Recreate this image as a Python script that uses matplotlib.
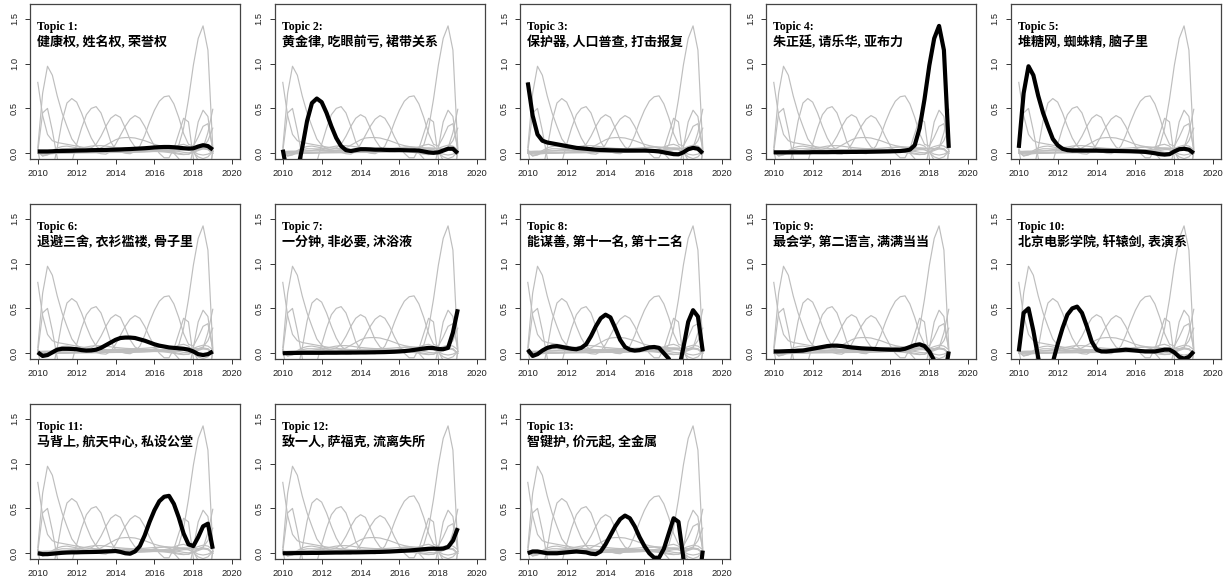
import matplotlib
matplotlib.use("Agg")
import matplotlib.pyplot as plt
import numpy as np

# sample years (quarter-year grid)
years = np.arange(2010.0, 2019.001, 0.25)

topic_names = [f"Topic {i}:" for i in range(1, 14)]
topic_terms = [
    "健康权, 姓名权, 荣誉权",
    "黄金律, 吃眼前亏, 裙带关系",
    "保护器, 人口普查, 打击报复",
    "朱正廷, 请乐华, 亚布力",
    "堆糖网, 蜘蛛精, 脑子里",
    "退避三舍, 衣衫褴褛, 骨子里",
    "一分钟, 非必要, 沐浴液",
    "能谋善, 第十一名, 第十二名",
    "最会学, 第二语言, 满满当当",
    "北京电影学院, 轩辕剑, 表演系",
    "马背上, 航天中心, 私设公堂",
    "致一人, 萨福克, 流离失所",
    "智键护, 价元起, 全金属",
]

t1 = [0.02, 0.02, 0.02, 0.022, 0.025, 0.026, 0.027, 0.028, 0.03, 0.031, 0.032, 0.034,
      0.035, 0.036, 0.037, 0.039, 0.04, 0.042, 0.045, 0.047, 0.05, 0.053, 0.056, 0.06,
      0.065, 0.068, 0.07, 0.07, 0.067, 0.062, 0.056, 0.052, 0.055, 0.075, 0.09, 0.08, 0.04]
t2 = [0.04, -0.25, -0.4, -0.2, 0.06, 0.36, 0.56, 0.61, 0.57, 0.45, 0.3, 0.17,
      0.08, 0.035, 0.025, 0.035, 0.045, 0.045, 0.043, 0.04, 0.04, 0.038, 0.036, 0.035,
      0.035, 0.034, 0.033, 0.032, 0.03, 0.02, 0.01, 0.005, 0.01, 0.03, 0.05, 0.05, 0.0]
t3 = [0.79, 0.42, 0.21, 0.14, 0.12, 0.11, 0.1, 0.09, 0.08, 0.07, 0.06, 0.055,
      0.05, 0.045, 0.04, 0.037, 0.035, 0.033, 0.032, 0.031, 0.03, 0.03, 0.03, 0.03,
      0.03, 0.028, 0.025, 0.02, 0.01, 0.0, -0.01, -0.012, 0.01, 0.045, 0.06, 0.05, 0.0]
t4 = [0.01, 0.01, 0.01, 0.01, 0.01, 0.01, 0.01, 0.01, 0.012, 0.012, 0.012, 0.012,
      0.013, 0.013, 0.014, 0.014, 0.015, 0.015, 0.016, 0.016, 0.017, 0.018, 0.019, 0.02,
      0.021, 0.023, 0.025, 0.03, 0.04, 0.09, 0.28, 0.6, 0.98, 1.28, 1.42, 1.15, 0.06]
t5 = [0.06, 0.67, 0.97, 0.87, 0.64, 0.45, 0.3, 0.16, 0.09, 0.05, 0.035, 0.03,
      0.03, 0.03, 0.03, 0.03, 0.03, 0.028, 0.027, 0.026, 0.025, 0.024, 0.023, 0.022,
      0.02, 0.018, 0.015, 0.008, 0.0, -0.01, -0.015, -0.01, 0.02, 0.045, 0.05, 0.04, 0.0]
t6 = [0.01, -0.03, -0.02, 0.01, 0.04, 0.05, 0.05, 0.048, 0.045, 0.035, 0.03, 0.032,
      0.04, 0.06, 0.09, 0.12, 0.15, 0.17, 0.175, 0.175, 0.17, 0.155, 0.14, 0.12,
      0.1, 0.085, 0.075, 0.065, 0.06, 0.055, 0.05, 0.04, 0.02, -0.01, -0.02, -0.01, 0.02]
t7 = [0.0, 0.002, 0.003, 0.004, 0.005, 0.005, 0.005, 0.005, 0.005, 0.006, 0.006, 0.006,
      0.007, 0.007, 0.008, 0.008, 0.009, 0.009, 0.01, 0.011, 0.012, 0.013, 0.015, 0.017,
      0.02, 0.024, 0.03, 0.037, 0.045, 0.053, 0.06, 0.058, 0.048, 0.045, 0.06, 0.23, 0.49]
t8 = [0.04, -0.03, -0.01, 0.03, 0.06, 0.075, 0.08, 0.07, 0.06, 0.05, 0.045, 0.06,
      0.1, 0.19, 0.3, 0.39, 0.43, 0.4, 0.28, 0.15, 0.07, 0.04, 0.03, 0.035,
      0.05, 0.065, 0.07, 0.06, 0.0, -0.06, -0.2, -0.2, 0.06, 0.35, 0.48, 0.41, 0.02]
t9 = [0.02, 0.02, 0.022, 0.024, 0.025, 0.027, 0.03, 0.04, 0.05, 0.06, 0.07, 0.08,
      0.085, 0.085, 0.08, 0.072, 0.065, 0.06, 0.055, 0.052, 0.05, 0.047, 0.044, 0.042,
      0.04, 0.04, 0.04, 0.05, 0.07, 0.09, 0.1, 0.08, 0.02, -0.08, -0.25, -0.3, 0.02]
t10 = [0.02, 0.45, 0.5, 0.25, -0.05, -0.3, -0.35, -0.1, 0.1, 0.28, 0.43, 0.5,
       0.52, 0.45, 0.3, 0.13, 0.04, 0.02, 0.02, 0.025, 0.03, 0.035, 0.04, 0.035,
       0.03, 0.025, 0.02, 0.02, 0.02, 0.03, 0.04, 0.04, 0.01, -0.04, -0.06, -0.04, 0.02]
t11 = [0.0, -0.01, -0.01, -0.005, 0.0, 0.005, 0.008, 0.01, 0.01, 0.012, 0.013, 0.014,
       0.015, 0.017, 0.02, 0.022, 0.025, 0.015, 0.0, -0.005, 0.02, 0.08, 0.2, 0.35,
       0.48, 0.58, 0.63, 0.64, 0.55, 0.4, 0.22, 0.1, 0.08, 0.18, 0.3, 0.33, 0.05]
t12 = [0.0, 0.0, 0.001, 0.002, 0.003, 0.003, 0.004, 0.004, 0.005, 0.006, 0.007, 0.008,
       0.008, 0.009, 0.01, 0.01, 0.011, 0.012, 0.013, 0.014, 0.015, 0.017, 0.019, 0.022,
       0.025, 0.028, 0.031, 0.035, 0.04, 0.045, 0.05, 0.052, 0.05, 0.052, 0.07, 0.14, 0.28]
t13 = [0.0, 0.02, 0.02, 0.01, 0.0, 0.0, 0.0, 0.005, 0.01, 0.015, 0.02, 0.015,
       0.01, -0.005, -0.01, 0.02, 0.1, 0.2, 0.3, 0.38, 0.42, 0.39, 0.3, 0.18,
       0.08, 0.0, -0.05, -0.05, 0.05, 0.22, 0.39, 0.35, -0.05, -0.4, -0.5, -0.4, 0.03]

topics = [t1, t2, t3, t4, t5, t6, t7, t8, t9, t10, t11, t12, t13]

x_ticks = [2010, 2012, 2014, 2016, 2018, 2020]
y_ticks = [0.0, 0.5, 1.0, 1.5]

W, H = 1226, 581
fig = plt.figure(figsize=(W / 100, H / 100), dpi=100)

col_left = [30, 275, 520, 766, 1011]
row_top = [4, 204, 404]
pw, ph = 210, 155

tick_font = dict(family="Liberation Sans", size=6.7)
title_family = ["Liberation Serif", "Noto Sans CJK SC"]

for k in range(13):
    r, c = divmod(k, 5)
    left = col_left[c] / W
    bottom = 1 - (row_top[r] + ph) / H
    ax = fig.add_axes([left, bottom, pw / W, ph / H])
    for j, vals in enumerate(topics):
        ax.plot(years, vals, color="#bebebe", lw=0.85, zorder=1,
                solid_joinstyle="round")
    ax.plot(years, topics[k], color="black", lw=3.0, zorder=3,
            solid_capstyle="butt", solid_joinstyle="round")
    ax.set_xlim(2009.6, 2020.4)
    ax.set_ylim(-0.064, 1.664)
    ax.set_xticks(x_ticks)
    ax.set_xticklabels([str(v) for v in x_ticks], fontdict=tick_font)
    ax.set_yticks(y_ticks)
    ax.set_yticklabels([f"{v:.1f}" for v in y_ticks], fontdict=tick_font,
                       rotation=90, va="center")
    ax.tick_params(axis="both", length=3.6, width=0.7, color="#333333",
                   labelcolor="#222222")
    ax.tick_params(axis="x", pad=3.5)
    ax.tick_params(axis="y", pad=4.5)
    for s in ax.spines.values():
        s.set_color("#444444")
        s.set_linewidth(0.9)
    ax.text(7 / pw, 1 - 26 / ph, topic_names[k], transform=ax.transAxes,
            family=title_family, weight="bold", size=8.6, va="baseline", ha="left")
    ax.text(7 / pw, 1 - 42 / ph, topic_terms[k], transform=ax.transAxes,
            family=title_family, weight="bold", size=9.4, va="baseline", ha="left")

fig.savefig("out.png", dpi=100)
